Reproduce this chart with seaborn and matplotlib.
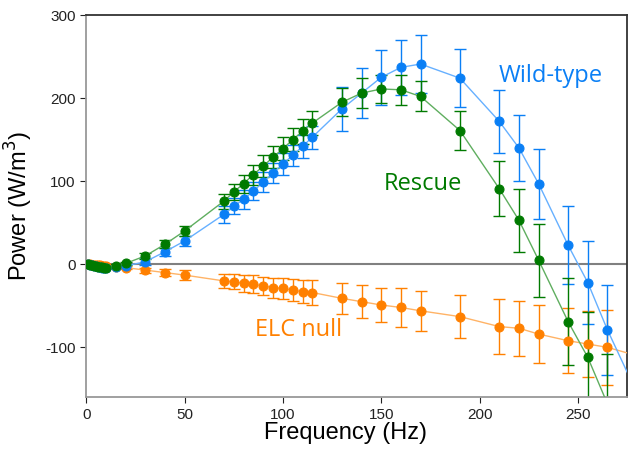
import seaborn as sns
import matplotlib.pyplot as plt
import pandas as pd

# frequencies (Hz) and power (W/m^3)
freq = [1, 2, 3, 4, 5, 6, 7, 8, 9, 10, 15, 20, 30, 40, 50, 70, 75, 80, 85, 90,
        95, 100, 105, 110, 115, 130, 140, 150, 160, 170, 190, 210, 220, 230,
        245, 255, 265, 280]

wild = [0, -1, -1, -2, -2, -3, -3, -4, -4, -4, -3, -2, 3, 15, 28, 60, 70, 78, 88, 99,
        110, 121, 131, 142, 153, 187, 206, 225, 237, 241, 224, 172, 140, 97,
        23, -22, -79, -155]
wild_err = [1, 1, 1, 1, 1, 1, 1, 1, 1, 1, 2, 2, 4, 5, 6, 10, 10, 11, 11, 12,
            12, 13, 13, 14, 14, 26, 30, 33, 33, 35, 35, 38, 40, 42,
            47, 50, 54, 58]

rescue = [0, -1, -1, -2, -2, -3, -3, -3, -4, -4, -2, 1, 10, 24, 40, 76, 87, 97, 108, 118,
          129, 139, 150, 160, 170, 195, 206, 211, 210, 202, 161, 91, 53, 5,
          -69, -112, -168, None]
rescue_err = [1, 1, 1, 1, 1, 1, 1, 1, 1, 1, 2, 2, 4, 5, 6, 9, 10, 11, 12, 13,
              13, 14, 14, 15, 15, 17, 18, 17, 18, 18, 23, 33, 38, 44,
              52, 55, 60, None]

elc = [0, 0, -1, -1, -1, -1, -1, -2, -2, -2, -3, -4, -7, -10, -13, -20, -21, -23, -24, -26,
       -28, -29, -31, -33, -34, -41, -45, -49, -52, -56, -63, -75, -77, -84,
       -92, -96, -100, -110]
elc_err = [1, 1, 1, 1, 1, 1, 1, 1, 1, 1, 2, 2, 3, 4, 6, 8, 9, 10, 11, 11,
           12, 13, 13, 14, 15, 19, 20, 21, 23, 24, 26, 33, 33, 35,
           39, 40, 45, 48]

series = [
    ("ELC null", elc, elc_err, "#ff8000", "#ffb366"),
    ("Wild-type", wild, wild_err, "#0a7ff5", "#66b0ff"),
    ("Rescue", rescue, rescue_err, "#007a00", "#5fae5f"),
]

plt.rcParams["axes.unicode_minus"] = False
fig, ax = plt.subplots(figsize=(6.29, 4.55), dpi=100)
fig.subplots_adjust(left=0.137, right=0.997, top=0.967, bottom=0.127)

ax.axhline(0, color="#808080", lw=1.5, zorder=1)

for name, vals, errs, col, light in series:
    df = pd.DataFrame({"freq": freq, "power": vals, "err": errs}).dropna()
    sns.lineplot(data=df, x="freq", y="power", ax=ax, color=light, lw=1.0,
                 marker="o", markersize=6.5, markerfacecolor=col,
                 markeredgecolor=col, zorder=3)
    ax.errorbar(df["freq"], df["power"], yerr=df["err"], fmt="none",
                ecolor=col, elinewidth=1.0, capsize=4, capthick=1.0, zorder=2)

ax.set_xlim(0, 275)
ax.set_ylim(-160, 300)
ax.set_xticks([0, 50, 100, 150, 200, 250])
ax.set_yticks([-100, 0, 100, 200, 300])
ax.tick_params(direction="out", length=4, labelsize=11, colors="#222222")
for lab in ax.get_xticklabels() + ax.get_yticklabels():
    lab.set_family("Liberation Sans")

ax.set_xlabel("Frequency (Hz)", fontsize=17, family="Liberation Sans")
ax.set_ylabel("Power (W/m$^3$)", fontsize=17, family="Liberation Sans")
ax.xaxis.set_label_coords(0.479, -0.065)
ax.yaxis.set_label_coords(-0.095, 0.5)

ax.spines["left"].set_color("#999999")
ax.spines["bottom"].set_color("#999999")
ax.spines["top"].set_color("#333333")
ax.spines["right"].set_color("#333333")
for s in ax.spines.values():
    s.set_linewidth(1.3)

ax.text(236, 227, "Wild-type", color="#0a7ff5", fontsize=17, family="Open Sans",
        ha="center", va="center")
ax.text(171, 97, "Rescue", color="#007a00", fontsize=17, family="Open Sans",
        ha="center", va="center")
ax.text(108, -79, "ELC null", color="#ff8000", fontsize=17, family="Open Sans",
        ha="center", va="center")

fig.savefig("out.png", dpi=100)
